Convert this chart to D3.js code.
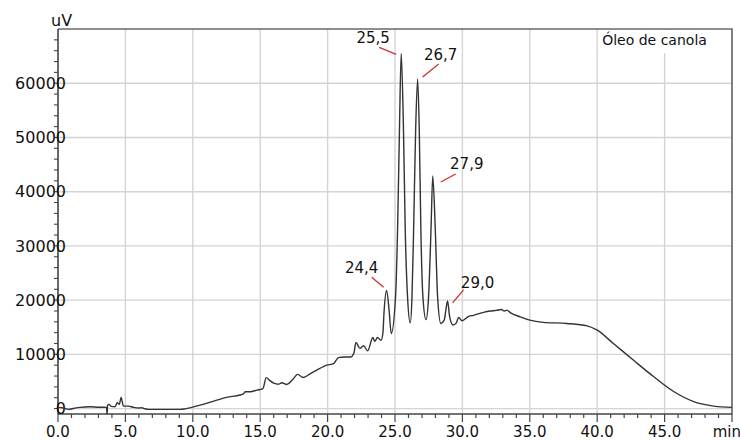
<!DOCTYPE html>
<html>
<head>
<meta charset="utf-8">
<script src="https://cdn.jsdelivr.net/npm/d3@7"></script>
<style>
  body { margin: 0; background: #fff; }
  text { font-family: "DejaVu Sans", sans-serif; fill: #111; }
</style>
</head>
<body>
<div id="chart"></div>
<script>
// Chromatogram (retention time, min) vs signal (uV)
const times = [0.0, 0.4, 0.77, 1.2, 1.63, 2.37, 3.0, 3.6, 3.64, 3.68, 3.78, 3.95, 4.23, 4.4, 4.55, 4.68, 4.85,
  5.22, 5.6, 6.0, 6.2, 6.4, 6.7, 8.05, 9.06, 9.43, 10.54, 11.78, 12.5, 13.5, 13.75, 13.9, 14.25, 14.75, 15.2,
  15.45, 15.7, 16.0, 16.36, 16.6, 16.97, 17.4, 17.77, 18.2, 18.7, 19.2, 19.95, 20.45, 20.8, 21.3, 21.7, 21.95,
  22.1, 22.4, 22.67, 22.97, 23.36, 23.5, 23.7, 23.96, 24.1, 24.19, 24.38, 24.57, 24.72, 25.04, 25.19, 25.33,
  25.46, 25.63, 25.76, 25.93, 26.13, 26.26, 26.38, 26.53, 26.68, 26.8, 26.92, 27.07, 27.3, 27.49, 27.67, 27.8,
  27.99, 28.16, 28.4, 28.65, 28.78, 28.9, 29.05, 29.3, 29.55, 29.72, 29.97, 30.46, 30.83, 31.5, 32.07, 32.5,
  32.9, 33.1, 33.3, 33.55, 34.3, 35.0, 36.0, 37.76, 39.25, 40.0, 41.2, 42.7, 44.2, 45.7, 47.2, 48.65, 50.0];
const signal = [220, 100, -150, 50, 220, 330, 250, 220, -1050, 600, 770, 400, 330, 1070, 770, 2060, 460,
  460, 220, 100, 150, 0, -150, -150, -150, -50, 650, 1560, 2060, 2500, 2700, 3100, 3100, 3400, 3700,
  5700, 5200, 4700, 4500, 4750, 4450, 5300, 6300, 5740, 6400, 7100, 8000, 8300, 9400, 9500, 9500, 10200,
  12200, 11100, 11600, 10650, 13100, 12400, 13100, 12600, 13850, 17900, 21800, 17900, 13850, 20600, 32900, 51300,
  65500, 51300, 32900, 20600, 15800, 20600, 32900, 51300, 60800, 51300, 32900, 20600, 16400, 20600, 32900, 42900,
  32900, 20600, 15700, 16300, 18300, 19850, 17000, 15400, 15800, 16800, 16200, 17000, 17200, 17700, 18000, 18100,
  18270, 18000, 18150, 17700, 16900, 16300, 15900, 15700, 15250, 14450, 12000, 8900, 5860, 3100, 1250, 460, 220];

// labelled peaks
const peakLabels = ["24,4", "25,5", "26,7", "27,9", "29,0"];
const peakTimes = [24.38, 25.46, 26.68, 27.8, 28.9];
const peakValues = [21800, 65500, 60800, 42900, 19850];

const xTicks = [0, 5, 10, 15, 20, 25, 30, 35, 40, 45];
const yTicks = [0, 10000, 20000, 30000, 40000, 50000, 60000];

const width = 740, height = 441;
const margin = {top: 29, right: 8, bottom: 27, left: 58};

const svg = d3.select("#chart").append("svg")
  .attr("width", width)
  .attr("height", height);

const x = d3.scaleLinear().domain([0, 50]).range([margin.left, width - margin.right]);
const y = d3.scaleLinear().domain([-1000, 70000]).range([height - margin.bottom, margin.top]);

// grid
svg.append("g")
  .selectAll("line")
  .data(xTicks.filter(d => d > 0))
  .join("line")
    .attr("x1", d => x(d)).attr("x2", d => x(d))
    .attr("y1", y.range()[1]).attr("y2", y.range()[0])
    .attr("stroke", "#d4d4d4").attr("stroke-width", 1.4);

svg.append("g")
  .selectAll("line")
  .data(yTicks)
  .join("line")
    .attr("x1", x.range()[0]).attr("x2", x.range()[1])
    .attr("y1", d => y(d)).attr("y2", d => y(d))
    .attr("stroke", "#d4d4d4").attr("stroke-width", 1.4);

// frame: top + right
svg.append("path")
  .attr("d", `M${x.range()[0]},${y.range()[1]}H${x.range()[1]}V${y.range()[0]}`)
  .attr("fill", "none").attr("stroke", "#6a6a6a").attr("stroke-width", 1.7);

// title box
svg.append("rect")
  .attr("x", x(40) + 3).attr("y", y.range()[1] + 1)
  .attr("width", x.range()[1] - x(40) - 4).attr("height", 23)
  .attr("fill", "#fff");
svg.append("text")
  .attr("x", x(40) + 5).attr("y", y.range()[1] + 16)
  .attr("font-size", 14)
  .text("Óleo de canola");

// axes
const xAxis = svg.append("g");
xAxis.append("line")
  .attr("x1", x.range()[0]).attr("x2", x.range()[1])
  .attr("y1", y.range()[0]).attr("y2", y.range()[0])
  .attr("stroke", "#444").attr("stroke-width", 1.6);
xAxis.selectAll(".minor")
  .data(d3.range(0, 51, 1))
  .join("line")
    .attr("x1", d => x(d)).attr("x2", d => x(d))
    .attr("y1", y.range()[0])
    .attr("y2", d => y.range()[0] + (d % 5 === 0 ? 8 : 4))
    .attr("stroke", "#444").attr("stroke-width", 1.2);
xAxis.selectAll("text")
  .data(xTicks)
  .join("text")
    .attr("x", d => x(d))
    .attr("y", height - 4)
    .attr("text-anchor", "middle")
    .attr("font-size", 15)
    .text(d => d.toFixed(1));
xAxis.append("text")
  .attr("x", x.range()[1] + 9).attr("y", height - 4)
  .attr("text-anchor", "end")
  .attr("font-size", 15)
  .text("min");

const yAxis = svg.append("g");
yAxis.append("line")
  .attr("x1", x.range()[0]).attr("x2", x.range()[0])
  .attr("y1", y.range()[0]).attr("y2", y.range()[1])
  .attr("stroke", "#444").attr("stroke-width", 1.6);
yAxis.selectAll(".minor")
  .data(d3.range(0, 70000, 2000))
  .join("line")
    .attr("x1", x.range()[0] - 4).attr("x2", x.range()[0])
    .attr("y1", d => y(d)).attr("y2", d => y(d))
    .attr("stroke", "#444").attr("stroke-width", 1.1);
yAxis.selectAll("text")
  .data(yTicks)
  .join("text")
    .attr("x", x.range()[0] + 8)
    .attr("y", d => y(d))
    .attr("dy", "0.36em")
    .attr("text-anchor", "end")
    .attr("font-size", 16)
    .text(d => d);
yAxis.append("text")
  .attr("x", x.range()[0] - 7).attr("y", y.range()[1] - 3)
  .attr("font-size", 16)
  .text("uV");

// trace
const line = d3.line()
  .x((d, i) => x(times[i]))
  .y(d => y(d))
  .curve(d3.curveMonotoneX);

svg.append("path")
  .datum(signal)
  .attr("d", line)
  .attr("fill", "none")
  .attr("stroke", "#333")
  .attr("stroke-width", 1.4);

// peak annotations: [line start dx,dy, line end dx,dy, text dx,dy] from the apex
const offs = [
  [-15, -13, -3, -3, -25, -17],
  [-22, -6, -5, 1, -28, -10],
  [21, -15, 5, -2, 23, -19],
  [23, -2, 8, 6, 34, -7],
  [16, -11, 5, 2, 30, -13]
];
const ann = svg.append("g")
  .selectAll("g")
  .data(peakLabels)
  .join("g")
    .attr("transform", (d, i) => `translate(${x(peakTimes[i])},${y(peakValues[i])})`);
ann.append("line")
  .attr("x1", (d, i) => offs[i][0]).attr("y1", (d, i) => offs[i][1])
  .attr("x2", (d, i) => offs[i][2]).attr("y2", (d, i) => offs[i][3])
  .attr("stroke", "#d03030").attr("stroke-width", 1.3);
ann.append("text")
  .attr("x", (d, i) => offs[i][4]).attr("y", (d, i) => offs[i][5])
  .attr("text-anchor", "middle")
  .attr("font-size", 15)
  .text(d => d);
</script>
</body>
</html>
